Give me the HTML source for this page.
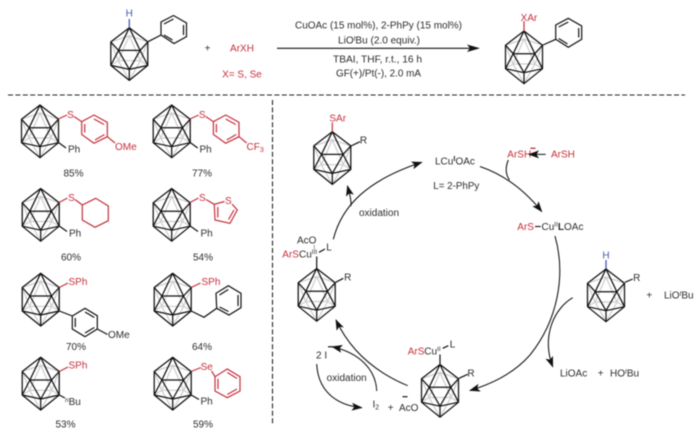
<!DOCTYPE html>
<html><head><meta charset="utf-8"><style>
html,body{margin:0;padding:0;background:#fff;width:700px;height:432px;overflow:hidden}
svg{display:block;filter:blur(.4px)}
text{font-family:"Liberation Sans",sans-serif;font-size:10px;fill:#2c2c2c}
.r{fill:#c5303c}.m{text-anchor:middle}.b{fill:#4458b0}
.k{fill:none;stroke:#111;stroke-width:1.2}
.rl{fill:none;stroke:#c5303c;stroke-width:1.2}
.c{fill:none;stroke:#111;stroke-width:1.05}
</style></head><body>
<svg width="700" height="432" viewBox="0 0 700 432" xmlns="http://www.w3.org/2000/svg">
<defs>
<g id="cage">
<path d="M-18.5 14.2L0 8L18.5 14.2M0 8L-11 33H11ZM-18.5 14.2L-11 33L-18.5 37.7M18.5 14.2L11 33L18.5 37.7M-11 33L0 52.7L11 33" fill="none" stroke="#cdcdcd" stroke-width="1.2"/>
<path d="M0 0L-18.5 14.2V37.7L0 52.7L18.5 37.7V14.2ZM0 0L-10.8 22.7H10.8ZM-18.5 14.2L-10.8 22.7L-18.5 37.7L0 41.7L-10.8 22.7M18.5 14.2L10.8 22.7L18.5 37.7L0 41.7L10.8 22.7M0 41.7V52.7" fill="none" stroke="#111" stroke-width="1.25" stroke-linejoin="round"/>
</g>
<marker id="a" markerWidth="11" markerHeight="8" refX="10" refY="4" orient="auto" markerUnits="userSpaceOnUse"><path d="M0 0L11 4L0 8L2.5 4Z" fill="#111"/></marker>
</defs>

<!-- top reaction -->
<use href="#cage" x="129.3" y="27.7"/>
<path d="M129.3 19V27.7" stroke="#4458b0" stroke-width="1.3"/>
<text x="129.3" y="16.5" class="m b">H</text>
<path class="k" d="M148 41.7L161 35V22L173.5 15.5L186.5 23V36.7L174 43.5L161 35M164 24L173.5 19M183.5 25V35M172.5 40L164 35"/>
<text x="207.5" y="51.5" class="m">+</text>
<text x="242" y="51.5" class="m r">ArXH</text>
<text x="242" y="77.5" class="m r">X= S, Se</text>
<text x="295" y="28.5" textLength="167" lengthAdjust="spacingAndGlyphs">CuOAc (15 mol%), 2-PhPy (15 mol%)</text>
<text x="338" y="43.5" textLength="82" lengthAdjust="spacingAndGlyphs">LiO<tspan dy="-3" font-size="6.5" font-style="italic">t</tspan><tspan dy="3">Bu (2.0 equiv.)</tspan></text>
<text x="333" y="62.5" textLength="89" lengthAdjust="spacingAndGlyphs">TBAI, THF, r.t., 16 h</text>
<text x="336" y="76.5" textLength="85" lengthAdjust="spacingAndGlyphs">GF(+)/Pt(-), 2.0 mA</text>
<path d="M277 48.3H472" stroke="#111" stroke-width="1.2"/>
<path d="M467 44.5L480 48.3L467 52L470 48.3Z" fill="#111"/>
<use href="#cage" x="524" y="31"/>
<path d="M524 21V31" stroke="#c5303c" stroke-width="1.2"/>
<text x="529" y="21" class="m r">XAr</text>
<path class="k" d="M543 45L555.7 39.3V25L568.3 18.3L581.7 26V39.3L568.3 47.3L555.7 39.3M558.7 27L568.3 22M578.7 28V37.5M567.5 44L558.7 38.5"/>

<path d="M8 95H685" stroke="#222" stroke-width="1.1" stroke-dasharray="5 2.4"/>
<path d="M272.5 100V425" stroke="#222" stroke-width="1.1" stroke-dasharray="5 2.4"/>

<!-- scope -->
<use href="#cage" x="40" y="105"/>
<path class="rl" d="M58.3 119L67 115M74 116.5L81.7 121.7L94 115L107.3 122.3V136.7L94 143.3L81.7 134.5V121.7M84.7 124V132.5M94 119L104 124.5M104.5 134.5L95 140M107.3 136.7L115 143"/>
<path class="k" d="M58.5 142.5L66 148"/>
<text x="70.5" y="118" class="m r">S</text><text x="115" y="150" class="r">OMe</text>
<text x="68" y="152.5">Ph</text><text x="73.5" y="176.5" class="m">85%</text>

<use href="#cage" x="171.7" y="105"/>
<path class="rl" d="M190 119L198.7 115M205.7 116.5L213.4 121.7L225.7 115L239 122.3V136.7L225.7 143.3L213.4 134.5V121.7M216.4 124V132.5M225.7 119L235.7 124.5M236.2 134.5L226.7 140M239 136.7L246.7 143"/>
<path class="k" d="M190.2 142.5L197.7 148"/>
<text x="202.2" y="118" class="m r">S</text><text x="246.5" y="150" class="r">CF<tspan dy="2" font-size="7">3</tspan></text>
<text x="199.5" y="152.5">Ph</text><text x="202" y="176.5" class="m">77%</text>

<use href="#cage" x="40.7" y="188.5"/>
<path class="rl" d="M59 202.5L67.5 198M75 199.5L82.3 205L95.7 198.3L108.3 206V220.7L95 227.3L82.3 220V205"/>
<path class="k" d="M59.2 226L67 231.5"/>
<text x="71.5" y="201" class="m r">S</text>
<text x="69" y="236.5">Ph</text><text x="71" y="260.5" class="m">60%</text>

<use href="#cage" x="171.7" y="188.5"/>
<path class="rl" d="M190 202.5L198.5 198M206 199.5L214.3 204.3L224.5 201.5M232 204L237.3 210L230 223.3L215 220L214.3 204.3M217.8 207V217.5M228.5 219.5L234 210"/>
<path class="k" d="M190.2 226L198 231.5"/>
<text x="202.3" y="201" class="m r">S</text><text x="228.3" y="204" class="m r">S</text>
<text x="200.5" y="236.5">Ph</text><text x="203" y="260.5" class="m">54%</text>

<use href="#cage" x="40.7" y="273.3"/>
<path class="rl" d="M59.3 287.5L68 283"/>
<text x="68.5" y="285" class="r">SPh</text>
<path class="k" d="M59.3 311L72.3 316V329L85 336.7L97.3 329V315.7L85 308.3L72.3 316M75.3 318V327M85 312L94.3 317.5M94.3 327.5L85 333M97.3 329L107.5 334.5"/>
<text x="108" y="338">OMe</text><text x="76" y="350" class="m">70%</text>

<use href="#cage" x="172.7" y="273.3"/>
<path class="rl" d="M191.2 287.5L200.5 283"/>
<text x="201.5" y="285" class="r">SPh</text>
<path class="k" d="M191.2 311L204 317.3L216.7 308.3L216 293.3L228.3 285.7L241 293.3V307.7L229 315L216.7 308.3M219.5 295L228.3 289.5M238 295V306M228.5 311.5L219.5 307"/>
<text x="202" y="350" class="m">64%</text>

<use href="#cage" x="40.7" y="357.3"/>
<path class="rl" d="M59.3 371.5L68 367"/>
<text x="68.5" y="368.5" class="r">SPh</text>
<path class="k" d="M59.2 395L65 398"/>
<text x="65" y="405"><tspan dy="-3" font-size="6.5" font-style="italic">n</tspan><tspan dy="3">Bu</tspan></text>
<text x="65.5" y="427.5" class="m">53%</text>

<use href="#cage" x="172.7" y="357.3"/>
<path class="rl" d="M191.2 371.5L201 367.5M211.5 371L215 376.7L227.3 369L240 376.7V391L227.3 397.7L215 391V376.7M218 378.7V389M227.3 372.5L237 378.5M237 389L227.3 394.5"/>
<path class="k" d="M191.2 395L199 399.5"/>
<text x="206.7" y="370" class="m r">Se</text>
<text x="200.5" y="404.5">Ph</text><text x="203" y="427.5" class="m">59%</text>

<!-- cycle structures -->
<use href="#cage" x="332.3" y="131.7"/>
<path d="M332.3 122.5V131.7" stroke="#c5303c" stroke-width="1.2"/>
<text x="337.7" y="121.5" class="m r">SAr</text>
<path class="k" d="M351 146L360 141.7"/><text x="363.5" y="143.5" class="m">R</text>

<text x="435" y="164.5">LCu<tspan dy="-3.5" font-size="7.5" font-weight="bold">I</tspan><tspan dy="3.5">OAc</tspan></text>
<text x="433.3" y="189" textLength="46" lengthAdjust="spacingAndGlyphs">L= 2-PhPy</text>

<text x="507.3" y="157.5" class="r">ArSH</text>
<path d="M530.3 148.3H535.5" stroke="#c5303c" stroke-width="1.3"/>
<text x="551" y="157.5" class="r">ArSH</text>
<path class="c" d="M545.7 154.4H529" marker-end="url(#a)"/>

<text x="517.3" y="230" class="r">ArS</text>
<path d="M535 226.5H540.7" stroke="#111" stroke-width="1.1"/>
<text x="541.5" y="230">Cu<tspan dy="-3.5" font-size="6.5">II</tspan><tspan dy="3.5" font-weight="bold">L</tspan>OAc</text>

<text x="606" y="258.5" class="m b">H</text>
<path d="M606 260V269" stroke="#4458b0" stroke-width="1.3"/>
<use href="#cage" x="606" y="269"/>
<path class="k" d="M625 282.3L632.7 279"/><text x="636.7" y="281" class="m">R</text>
<text x="649.3" y="298.5" class="m">+</text>
<text x="664" y="298.5">LiO<tspan dy="-3" font-size="6.5" font-style="italic">t</tspan><tspan dy="3">Bu</tspan></text>
<text x="560" y="376.5">LiOAc</text><text x="600.7" y="376.5" class="m">+</text>
<text x="610" y="376.5">HO<tspan dy="-3" font-size="6.5" font-style="italic">t</tspan><tspan dy="3">Bu</tspan></text>

<use href="#cage" x="440" y="364.5"/>
<path class="k" d="M440 354.5V364.5M459 378.3L467.7 374.3M442.7 348.3L448.3 345.7"/>
<text x="407.7" y="354.5" class="r">ArS</text>
<text x="424.3" y="354.5">Cu<tspan dy="-3.5" font-size="6.5">II</tspan></text>
<text x="452.5" y="347.5" class="m">L</text><text x="471" y="376.5" class="m">R</text>

<use href="#cage" x="316.7" y="268.5"/>
<path class="k" d="M316.7 256.5V268.5M335.7 282.3L343.3 278.3M319 252.3L325 249"/>
<path d="M314.3 245.5V250" stroke="#111" stroke-width=".8" stroke-dasharray="1 1"/>
<text x="297" y="243.5">AcO</text>
<text x="282.3" y="257.5" class="r">ArS</text>
<text x="299" y="257.5">Cu<tspan dy="-3.5" font-size="6.5">III</tspan></text>
<text x="329" y="250.5" class="m">L</text>
<text x="347.7" y="280.5" class="m">R</text>

<text x="316" y="358.5">2 I</text>
<path d="M328 346.8H333" stroke="#111" stroke-width="1.2"/>
<text x="346.7" y="381" class="m">oxidation</text>
<text x="379" y="216" class="m">oxidation</text>
<text x="372.5" y="407.5">I<tspan dy="2" font-size="7">2</tspan></text>
<text x="390.7" y="411" class="m">+</text>
<text x="399" y="411">AcO</text>
<path d="M402.5 396.7H407.5" stroke="#111" stroke-width="1.2"/>

<!-- arrows -->
<path class="c" d="M333.3 239.3C342 205 368 180 421.7 162.3" marker-end="url(#a)"/>
<path class="c" d="M351 206C351.5 198 349 192 347.5 186" marker-end="url(#a)"/>
<path class="c" d="M480 166.5C505 175 526 192 541.7 211.5" marker-end="url(#a)"/>
<path class="c" d="M508.3 160C505 168 506 175 509.5 180"/>
<path class="c" d="M555 236C566 275 558 320 530 355C515 372 495 383 470 390.5" marker-end="url(#a)"/>
<path class="c" d="M572.7 297.7C555 308 541 335 552.7 366.7" marker-end="url(#a)"/>
<path class="c" d="M407.7 385.7C375 372 350 350 336 320" marker-end="url(#a)"/>
<path class="c" d="M376.7 391C376 370 360 353 332.3 346.7" marker-end="url(#a)"/>
<path class="c" d="M316.7 364C318 390 335 405 361.7 407.7" marker-end="url(#a)"/>
</svg>
</body></html>
